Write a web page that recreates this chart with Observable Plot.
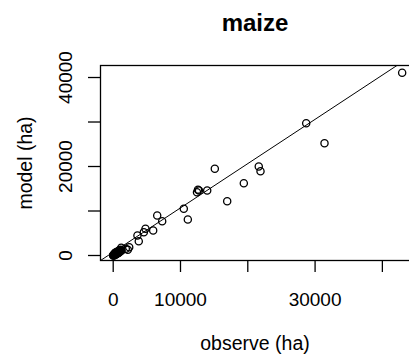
<!DOCTYPE html>
<html><head><meta charset="utf-8">
<script src="https://cdn.jsdelivr.net/npm/d3@7"></script>
<script src="https://cdn.jsdelivr.net/npm/@observablehq/plot@0.6"></script>
<style>body{margin:0;background:#fff;overflow:hidden}</style>
</head><body><div id="chart"></div>
<script>
const observe = [42940, 28680, 31400, 21630, 21890, 15100, 19410, 16940, 13970, 12750, 12600, 12450,
  10490, 11090, 6540, 7280, 5940, 4800, 4550, 3600, 3800, 2170, 1190, 1870, 2380,
  50, 120, 200, 300, 350, 450, 520, 600, 700, 780, 850, 950, 1050, 250, 150, 400, 650, 1100, 80, 900,
  0, 10, 100, 180, 260, 330, 420, 480, 560, 620, 720, 800, 880, 1000, 1150, 1250, 300, 550];
const model = [41060, 29730, 25240, 20000, 18940, 19480, 16250, 12200, 14610, 14600, 14800, 14230,
  10490, 8090, 8990, 7710, 5620, 6000, 5240, 4490, 3210, 1280, 1730, 1500, 1870,
  80, 40, 250, 150, 420, 300, 600, 480, 750, 620, 950, 820, 1100, 500, 300, 650, 900, 1300, 200, 1200,
  0, 30, 120, 60, 180, 300, 380, 520, 420, 640, 560, 820, 700, 1000, 1050, 1150, 600, 800];
const xTickValues = [0, 10000, 20000, 30000, 40000];
const xTickLabels = ["0", "10000", "", "30000", ""];
const yTickValues = [0, 10000, 20000, 30000, 40000];
const yTickLabels = ["0", "", "20000", "", "40000"];
const fitIntercept = 750;
const fitSlope = 0.995;
const titleText = "maize";
const xLabel = "observe (ha)";
const yLabel = "model (ha)";

const xDomain = [-1887, 44030];
const yDomain = [-1124, 42700];

const points = observe.map((x, i) => ({x, y: model[i]}));
const fitPts = xDomain.map(x => ({x, y: fitIntercept + fitSlope * x}));
const xTicks = xTickValues.map((v, i) => ({v, t: xTickLabels[i]}));
const yTicks = yTickValues.map((v, i) => ({v, t: yTickLabels[i]}));

const chart = Plot.plot({
  width: 409,
  height: 355,
  marginLeft: 100,
  marginRight: 0,
  marginTop: 65,
  marginBottom: 95,
  style: {background: "#fff", fontFamily: "Liberation Sans, Arial, sans-serif", color: "black"},
  x: {domain: xDomain, axis: null},
  y: {domain: yDomain, axis: null},
  marks: [
    Plot.frame({stroke: "black", strokeWidth: 1.3, insetRight: -3}),
    Plot.line(fitPts, {x: "x", y: "y", stroke: "black", strokeWidth: 1, clip: true}),
    Plot.dot(points, {x: "x", y: "y", r: 3.6, stroke: "black", strokeWidth: 1.3, fill: "none"}),
    Plot.axisX({ticks: xTickValues, tickSize: 12, tickFormat: () => "", label: null, strokeWidth: 1.3}),
    Plot.axisY({ticks: yTickValues, tickSize: 12, tickFormat: () => "", label: null, strokeWidth: 1.3}),
    Plot.text(xTicks, {x: "v", text: "t", frameAnchor: "bottom", dy: 45, lineAnchor: "bottom", fontSize: 19, fill: "black"}),
    Plot.text(yTicks, {y: "v", text: "t", frameAnchor: "left", dx: -34.2, rotate: -90, lineAnchor: "middle", textAnchor: "middle", fontSize: 19, fill: "black"}),
    Plot.text([titleText], {text: d => d, frameAnchor: "top", dy: -35, lineAnchor: "bottom", fontSize: 24, fontWeight: "bold", fill: "black"}),
    Plot.text([xLabel], {text: d => d, frameAnchor: "bottom", dy: 89, lineAnchor: "bottom", fontSize: 19.5, fill: "black"}),
    Plot.text([yLabel], {text: d => d, frameAnchor: "left", dx: -69, rotate: -90, lineAnchor: "bottom", textAnchor: "middle", fontSize: 19.5, fill: "black"})
  ]
});
document.getElementById("chart").appendChild(chart);
</script>
</body></html>
